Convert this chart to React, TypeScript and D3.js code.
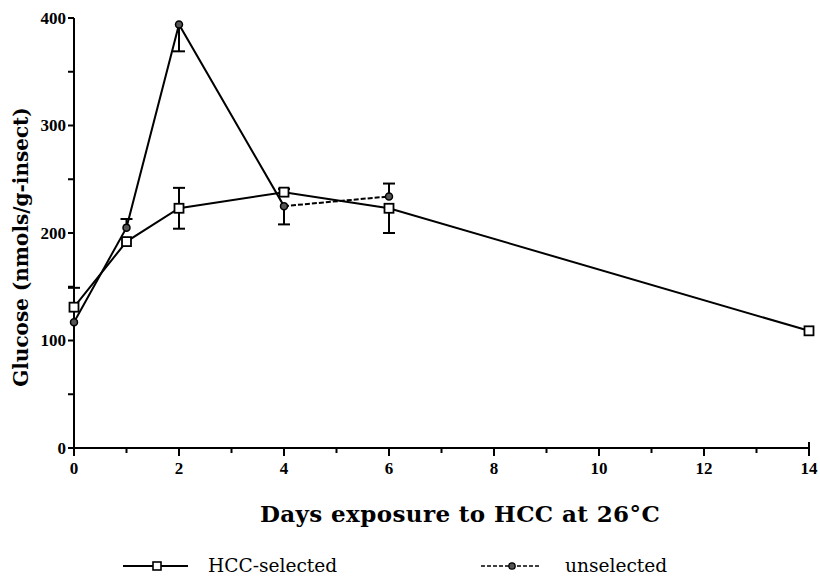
import React from 'react';
import * as d3 from 'd3';

// values
const hccDays = [0, 1, 2, 4, 6, 14];
const hccMean = [131, 192, 223, 238, 223, 109];
const hccErrHi = [149, null, 242, 241, null, null];
const hccErrLo = [null, null, 204, null, 200, null];

const unsDays = [0, 1, 2, 4, 6];
const unsMean = [117, 205, 394, 225, 234];
const unsErrHi = [null, 213, null, null, 246];
const unsErrLo = [null, null, 369, 208, null];

const xTicks = [0, 2, 4, 6, 8, 10, 12, 14];
const yTicks = [0, 100, 200, 300, 400];

const serif = '"DejaVu Serif", serif';
const tickFont = '"Liberation Serif", "Times New Roman", serif';

const App = () => {
  const x = d3.scaleLinear().domain([0, 14]).range([74, 809]);
  const y = d3.scaleLinear().domain([0, 400]).range([448, 18]);

  const path = (days: number[], vals: number[]) =>
    d3
      .line<number>()
      .x((d) => x(d))
      .y((d, i) => y(vals[i]))(days) || '';

  const errBars = (days: number[], vals: number[], hi: (number | null)[], lo: (number | null)[]) =>
    days.map((d, i) => {
      const cx = x(d);
      const parts = [];
      if (hi[i] != null) {
        parts.push(<line key={'h' + i} x1={cx} x2={cx} y1={y(vals[i])} y2={y(hi[i] as number)} />);
        parts.push(<line key={'hc' + i} x1={cx - 6} x2={cx + 6} y1={y(hi[i] as number)} y2={y(hi[i] as number)} />);
      }
      if (lo[i] != null) {
        parts.push(<line key={'l' + i} x1={cx} x2={cx} y1={y(vals[i])} y2={y(lo[i] as number)} />);
        parts.push(<line key={'lc' + i} x1={cx - 6} x2={cx + 6} y1={y(lo[i] as number)} y2={y(lo[i] as number)} />);
      }
      return parts;
    });

  const minor = d3.range(0, 15);
  const yMinor = d3.range(0, 401, 50);

  return (
    <svg width={820} height={578} style={{ position: 'absolute', left: 0, top: 0, background: '#fff' }}>
      {/* axes */}
      <g stroke="#000" strokeWidth={2}>
        <line x1={x(0)} x2={x(0)} y1={y(400)} y2={y(0)} />
        <line x1={x(0)} x2={x(14)} y1={y(0)} y2={y(0)} />
        {yMinor.map((v) => (
          <line key={'yt' + v} x1={x(0) - 6} x2={x(0)} y1={y(v)} y2={y(v)} />
        ))}
        {minor.map((v) => (
          <line key={'xt' + v} x1={x(v)} x2={x(v)} y1={y(0)} y2={y(0) + (v % 2 === 0 ? 8 : 5)} />
        ))}
        <line x1={x(14)} x2={x(14)} y1={y(0) - 6} y2={y(0)} />
      </g>
      {yTicks.map((v) => (
        <text
          key={'yl' + v}
          x={x(0) - 8}
          y={y(v)}
          dy="0.35em"
          textAnchor="end"
          fontFamily={tickFont}
          fontWeight="bold"
          fontSize={17}
        >
          {v}
        </text>
      ))}
      {xTicks.map((v) => (
        <text
          key={'xl' + v}
          x={x(v)}
          y={y(0) + 26}
          textAnchor="middle"
          fontFamily={tickFont}
          fontWeight="bold"
          fontSize={17}
        >
          {v}
        </text>
      ))}
      <text
        transform="translate(28,247) rotate(-90)"
        textAnchor="middle"
        fontFamily={serif}
        fontWeight="bold"
        fontSize={20}
      >
        Glucose (nmols/g-insect)
      </text>
      <text x={460} y={522} textAnchor="middle" fontFamily={serif} fontWeight="bold" fontSize={23} letterSpacing={0.4}>
        Days exposure to HCC at 26°C
      </text>

      {/* HCC-selected */}
      <path d={path(hccDays, hccMean)} fill="none" stroke="#000" strokeWidth={2} />
      <g stroke="#000" strokeWidth={2}>{errBars(hccDays, hccMean, hccErrHi, hccErrLo)}</g>

      {/* unselected: near-solid up to day 4, dashed after */}
      <path d={path(unsDays.slice(0, 4), unsMean.slice(0, 4))} fill="none" stroke="#000" strokeWidth={2} />
      <path
        d={path(unsDays.slice(3), unsMean.slice(3))}
        fill="none"
        stroke="#000"
        strokeWidth={2}
        strokeDasharray="5,2"
      />
      <g stroke="#000" strokeWidth={2}>{errBars(unsDays, unsMean, unsErrHi, unsErrLo)}</g>

      {hccDays.map((d, i) => (
        <rect
          key={'sq' + i}
          x={x(d) - 4.5}
          y={y(hccMean[i]) - 4.5}
          width={9}
          height={9}
          fill="#fff"
          stroke="#000"
          strokeWidth={1.8}
        />
      ))}
      {unsDays.map((d, i) => (
        <circle key={'c' + i} cx={x(d)} cy={y(unsMean[i])} r={3.5} fill="#555" stroke="#000" strokeWidth={1.5} />
      ))}

      {/* legend */}
      <g>
        <line x1={123} x2={188} y1={566} y2={566} stroke="#000" strokeWidth={2} />
        <rect x={153} y={562} width={8} height={8} fill="#fff" stroke="#000" strokeWidth={1.6} />
        <text x={208} y={572} fontFamily={serif} fontSize={18.6}>
          HCC-selected
        </text>
        <line x1={481} x2={541} y1={566} y2={566} stroke="#000" strokeWidth={1.5} strokeDasharray="4,2" />
        <circle cx={512} cy={566} r={3.2} fill="#555" stroke="#000" strokeWidth={1.3} />
        <text x={565} y={572} fontFamily={serif} fontSize={18.6}>
          unselected
        </text>
      </g>
    </svg>
  );
};

export default App;
